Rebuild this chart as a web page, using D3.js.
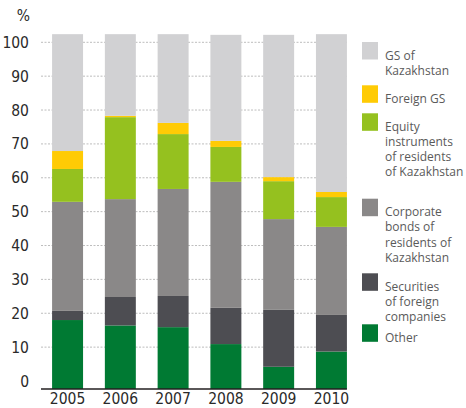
<!DOCTYPE html>
<html>
<head>
<meta charset="utf-8">
<script src="https://cdn.jsdelivr.net/npm/d3@7"></script>
<style>
  body { margin: 0; background: #fff; }
  svg { display: block; }
  .tick-label { font-family: "Liberation Sans Narrow", "Arial Narrow", "DejaVu Sans Condensed", sans-serif; font-size: 15.5px; fill: #2a2a2a; }
  .legend text { font-family: "Open Sans", sans-serif; font-size: 12px; fill: #5a5a5a; }
</style>
</head>
<body>
<svg id="chart" width="466" height="408"></svg>
<script>
// values (percent)
var years = ["2005", "2006", "2007", "2008", "2009", "2010"];
var other      = [18.0, 16.4, 15.9, 10.9,  4.2,  8.7];
var securities = [ 2.7,  8.4,  9.2, 10.7, 16.8, 10.8];
var corporate  = [32.2, 28.9, 31.6, 37.2, 26.8, 26.0];
var equity     = [ 9.7, 24.2, 16.2, 10.3, 11.2,  8.8];
var foreignGS  = [ 5.3,  0.4,  3.3,  1.8,  1.2,  1.5];
var gsKz       = [34.5, 24.1, 26.2, 31.3, 42.0, 46.6];
var yTicks = [0, 10, 20, 30, 40, 50, 60, 70, 80, 90, 100];

// bottom to top
var series = [
  {name: ["Other"], values: other, color: "#007a33"},
  {name: ["Securities", "of foreign", "companies"], values: securities, color: "#4d4d52"},
  {name: ["Corporate", "bonds of", "residents of", "Kazakhstan"], values: corporate, color: "#8a8888"},
  {name: ["Equity", "instruments", "of residents", "of Kazakhstan"], values: equity, color: "#95c11f"},
  {name: ["Foreign GS"], values: foreignGS, color: "#ffcb05"},
  {name: ["GS of", "Kazakhstan"], values: gsKz, color: "#d1d1d3"}
];

var svg = d3.select("#chart");

var x = d3.scaleBand()
  .domain(years)
  .range([41, 358])
  .paddingInner(0.413)
  .paddingOuter(0.21);

var y = d3.scaleLinear()
  .domain([0, 100])
  .range([381, 42.3]);

// bars sit on the axis line, a little under the zero gridline
var floor = -2.36;
var xEnd = x(years[years.length - 1]) + x.bandwidth();

// gridlines
svg.append("g").selectAll("line")
  .data(yTicks.filter(function(d){ return d > 0; }))
  .enter().append("line")
    .attr("x1", 41).attr("x2", xEnd)
    .attr("y1", function(d){ return y(d); })
    .attr("y2", function(d){ return y(d); })
    .attr("stroke", "#bdbdbd")
    .attr("stroke-width", 1)
    .attr("stroke-dasharray", "2,1.5");

// stack by hand so the first segment starts at the floor
var stacked = [];
var running = years.map(function(){ return 0; });
series.forEach(function(s, si){
  s.values.forEach(function(v, i){
    var lo = running[i];
    running[i] += v;
    stacked.push({year: years[i], y0: si === 0 ? floor : lo, y1: running[i], color: s.color});
  });
});

svg.append("g").selectAll("rect")
  .data(stacked)
  .enter().append("rect")
    .attr("x", function(d){ return x(d.year); })
    .attr("width", x.bandwidth())
    .attr("y", function(d){ return y(d.y1); })
    .attr("height", function(d){ return y(d.y0) - y(d.y1); })
    .attr("fill", function(d){ return d.color; });

// base line
svg.append("line")
  .attr("x1", 41).attr("x2", xEnd)
  .attr("y1", y(floor)).attr("y2", y(floor))
  .attr("stroke", "#231f20")
  .attr("stroke-width", 1.5);

// y labels
svg.append("g").selectAll("text")
  .data(yTicks)
  .enter().append("text")
    .attr("class", "tick-label")
    .attr("x", 29)
    .attr("y", function(d){ return y(d); })
    .attr("dy", "0.36em")
    .attr("text-anchor", "end")
    .text(function(d){ return d; });

svg.append("text")
  .attr("class", "tick-label")
  .attr("x", 30).attr("y", 21)
  .attr("text-anchor", "end")
  .text("%");

// x labels
svg.append("g").selectAll("text")
  .data(years)
  .enter().append("text")
    .attr("class", "tick-label")
    .attr("x", function(d){ return x(d) + x.bandwidth() / 2; })
    .attr("y", 404)
    .attr("text-anchor", "middle")
    .text(function(d){ return d; });

// legend, top to bottom
var legendTop = [42, 85.3, 113.3, 198.7, 273.3, 324.3];
var legendItems = series.slice().reverse();
var lineH = 15.2;

var lg = svg.append("g").attr("class", "legend")
  .selectAll("g")
  .data(legendItems)
  .enter().append("g")
    .attr("transform", function(d, i){ return "translate(362," + legendTop[i] + ")"; });

lg.append("rect")
  .attr("width", 16).attr("height", 17.5)
  .attr("fill", function(d){ return d.color; });

lg.each(function(d){
  var t = d3.select(this).append("text").attr("x", 23).attr("y", 17.5);
  d.name.forEach(function(line, j){
    t.append("tspan").attr("x", 23).attr("y", 17.5 + j * lineH).text(line);
  });
});
</script>
</body>
</html>
